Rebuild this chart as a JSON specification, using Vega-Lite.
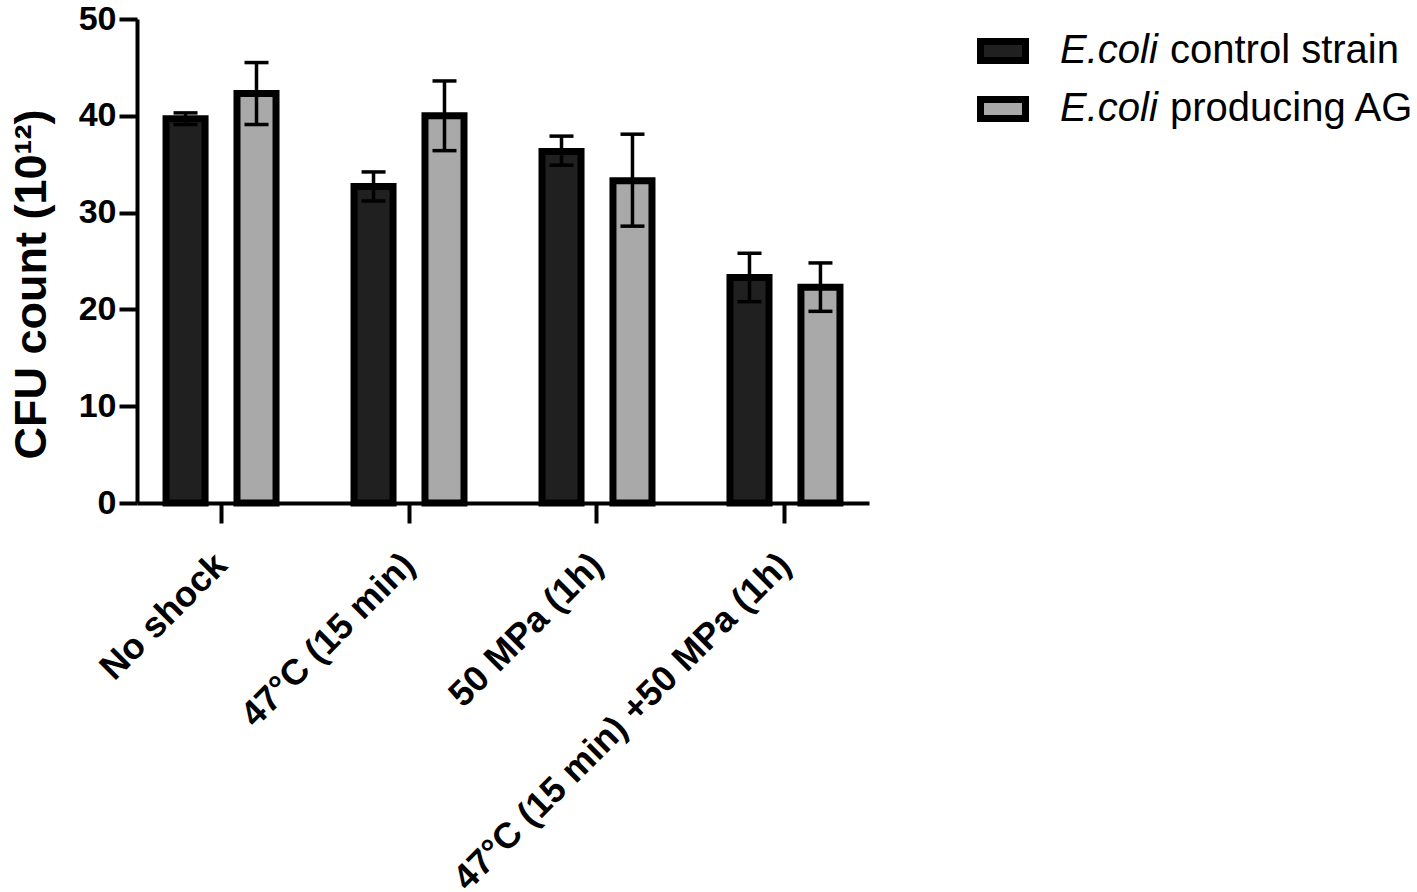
{
  "$schema": "https://vega.github.io/schema/vega-lite/v6.json",
  "width": 732,
  "height": 484,
  "autosize": {"type": "none"},
  "padding": {"left": 137, "top": 19, "right": 548, "bottom": 389},
  "background": "white",
  "data": {
    "values": [
      {"treatment": "No shock", "label": "E.coli control strain", "strain": "control strain", "mean": 39.7, "low": 39.1, "high": 40.3},
      {"treatment": "No shock", "label": "E.coli producing AG", "strain": "producing AG", "mean": 42.3, "low": 39.1, "high": 45.5},
      {"treatment": "47°C (15 min)", "label": "E.coli control strain", "strain": "control strain", "mean": 32.7, "low": 31.2, "high": 34.2},
      {"treatment": "47°C (15 min)", "label": "E.coli producing AG", "strain": "producing AG", "mean": 40.0, "low": 36.4, "high": 43.6},
      {"treatment": "50 MPa (1h)", "label": "E.coli control strain", "strain": "control strain", "mean": 36.3, "low": 34.9, "high": 37.9},
      {"treatment": "50 MPa (1h)", "label": "E.coli producing AG", "strain": "producing AG", "mean": 33.3, "low": 28.6, "high": 38.1},
      {"treatment": "47°C (15 min) +50 MPa (1h)", "label": "E.coli control strain", "strain": "control strain", "mean": 23.3, "low": 20.8, "high": 25.8},
      {"treatment": "47°C (15 min) +50 MPa (1h)", "label": "E.coli producing AG", "strain": "producing AG", "mean": 22.3, "low": 19.8, "high": 24.8}
    ]
  },
  "encoding": {
    "x": {
      "field": "treatment",
      "type": "nominal",
      "sort": null,
      "scale": {"paddingInner": 0.245, "paddingOuter": 0.0695},
      "axis": {
        "title": null,
        "domainColor": "black",
        "domainWidth": 4,
        "tickColor": "black",
        "tickWidth": 4,
        "tickSize": 20,
        "labelFontSize": 36,
        "labelFontWeight": "bold",
        "labelColor": "black",
        "labelAngle": -45,
        "labelAlign": "right",
        "labelBaseline": "middle",
        "labelPadding": 36,
        "labelLimit": 1000
      }
    },
    "xOffset": {
      "field": "label",
      "type": "nominal",
      "scale": {"paddingInner": 0.45, "paddingOuter": 0.225}
    }
  },
  "layer": [
    {
      "mark": {"type": "bar", "stroke": "black", "strokeWidth": 7},
      "encoding": {
        "y": {
          "field": "mean",
          "type": "quantitative",
          "title": "CFU count (10¹²)",
          "scale": {"domain": [0, 50], "nice": false},
          "axis": {
            "values": [0, 10, 20, 30, 40, 50],
            "grid": false,
            "domainColor": "black",
            "domainWidth": 4,
            "tickColor": "black",
            "tickWidth": 4,
            "tickSize": 18,
            "labelFontSize": 34,
            "labelFontWeight": "bold",
            "labelColor": "black",
            "labelPadding": 3,
            "titleFontSize": 45,
            "titleFontWeight": "bold",
            "titleColor": "black",
            "titlePadding": 24,
            "titleY": 265
          }
        },
        "fill": {
          "field": "label",
          "type": "nominal",
          "scale": {"domain": ["E.coli control strain", "E.coli producing AG"], "range": ["#202020", "#a9a9a9"]},
          "legend": {
            "orient": "none",
            "legendX": 840,
            "legendY": 6,
            "title": null,
            "padding": 0,
            "labelExpr": "'E.coli'",
            "labelFontStyle": "italic",
            "labelFontSize": 40,
            "labelColor": "black",
            "labelLimit": 500,
            "labelOffset": 31,
            "rowPadding": 8,
            "symbolType": "M-1,-0.42H1V0.42H-1Z",
            "symbolSize": 2025,
            "symbolStrokeColor": "black",
            "symbolStrokeWidth": 7
          }
        },
        "opacity": {
          "field": "strain",
          "type": "nominal",
          "scale": {"range": [1, 1]},
          "legend": {
            "orient": "none",
            "legendX": 993,
            "legendY": 12,
            "title": null,
            "padding": 0,
            "labelFontSize": 40,
            "labelColor": "black",
            "labelLimit": 500,
            "labelOffset": 0,
            "rowPadding": 18,
            "symbolSize": 0,
            "symbolStrokeWidth": 0
          }
        }
      }
    },
    {
      "mark": {"type": "rule", "color": "black", "strokeWidth": 3.5},
      "encoding": {
        "y": {"field": "low", "type": "quantitative", "title": "CFU count (10¹²)"},
        "y2": {"field": "high"}
      }
    },
    {
      "mark": {"type": "tick", "color": "black", "size": 24, "thickness": 3.5, "opacity": 1},
      "encoding": {
        "y": {"field": "low", "type": "quantitative", "title": "CFU count (10¹²)"}
      }
    },
    {
      "mark": {"type": "tick", "color": "black", "size": 24, "thickness": 3.5, "opacity": 1},
      "encoding": {
        "y": {"field": "high", "type": "quantitative", "title": "CFU count (10¹²)"}
      }
    }
  ],
  "config": {
    "font": "Liberation Sans",
    "view": {"stroke": null}
  }
}
